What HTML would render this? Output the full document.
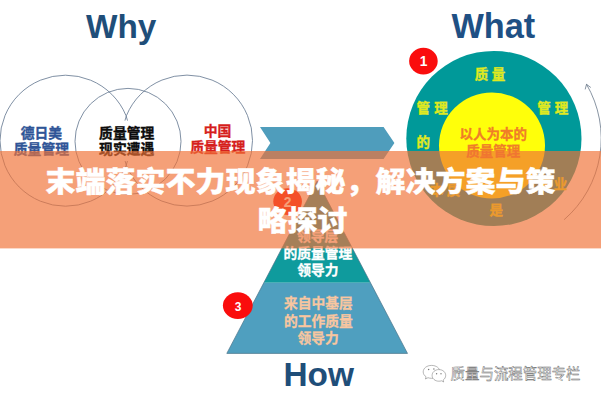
<!DOCTYPE html>
<html lang="zh-CN">
<head>
<meta charset="utf-8">
<title>末端落实不力现象揭秘，解决方案与策略探讨</title>
<style>
html,body{margin:0;padding:0;background:#fff;}
body{width:601px;height:400px;overflow:hidden;position:relative;}
svg{position:absolute;left:0;top:0;display:block;}
.en{font-family:"Liberation Sans",sans-serif;font-weight:bold;}
.cn{font-family:"Liberation Sans","Noto Sans CJK SC",sans-serif;font-weight:bold;}
.ttl{font-family:"Liberation Sans","Noto Sans CJK SC",sans-serif;font-weight:900;fill:#fff;stroke:#fff;stroke-width:0.4px;}
.wm{font-family:"Liberation Sans","Noto Sans CJK SC",sans-serif;font-weight:400;fill:#fff;stroke:#6a6a6a;stroke-width:0.45px;}
</style>
</head>
<body>
<svg width="601" height="400" viewBox="0 0 601 400">
  <rect x="0" y="0" width="601" height="400" fill="#ffffff"/>

  <!-- headings -->
  <text class="en" x="121.2" y="38" font-size="33.3" text-anchor="middle" fill="#1f4e79">Why</text>
  <text class="en" x="493.3" y="37.6" font-size="34.3" text-anchor="middle" fill="#1f5084">What</text>
  <text class="en" x="318.7" y="386" font-size="33.4" text-anchor="middle" fill="#1f4e79">How</text>

  <!-- venn circles -->
  <g fill="none" stroke="#5f748d" stroke-width="0.8">
    <circle cx="65.5" cy="140.7" r="65.5"/>
    <circle cx="187" cy="140.6" r="65.5"/>
    <circle cx="128" cy="141.4" r="53"/>
  </g>
  <rect x="97" y="120.6" width="60" height="40.4" fill="#ffffff"/>
  <g class="cn" font-size="13.8" text-anchor="middle" stroke-width="0.35">
    <text x="41.4" y="138.1" fill="#2f5597" stroke="#2f5597">德日美</text>
    <text x="41.4" y="154.1" fill="#2f5597" stroke="#2f5597">质量管理</text>
    <text x="126.7" y="138.3" fill="#0c0c0c" stroke="#0c0c0c">质量管理</text>
    <text x="126.7" y="154" fill="#0c0c0c" stroke="#0c0c0c">现实遭遇</text>
    <text x="217.6" y="135.9" fill="#d61e1c" stroke="#d61e1c">中国</text>
    <text x="217.8" y="152.2" fill="#d61e1c" stroke="#d61e1c">质量管理</text>
  </g>

  <!-- chevron arrow -->
  <polygon points="260,127 383.6,127 394.4,143.1 383.6,159.1 260,159.1 270.4,143.1" fill="#4f9dbc"/>

  <!-- What: big circles -->
  <circle cx="493.9" cy="138.5" r="87.6" fill="#009999"/>
  <circle cx="492" cy="145.5" r="53" fill="#ffff0a"/>
  <path d="M 564.1 219.7 A 107.3 107.3 0 0 0 586.5 84.3" fill="none" stroke="#55657a" stroke-width="0.7"/>
  <path d="M 585.2 89.4 L 586.5 84.3 L 590.8 87.5" fill="none" stroke="#55657a" stroke-width="0.7"/>
  <g class="cn" font-size="13.5" text-anchor="middle" fill="#e0ea1e" stroke="#e0ea1e" stroke-width="0.35">
    <text x="481.6" y="78.7">质</text><text x="498.5" y="78.7">量</text>
    <text x="423.2" y="113">管</text><text x="441.1" y="113">理</text>
    <text x="543.9" y="113">管</text><text x="561.4" y="113">理</text>
    <text x="423.3" y="146.8">的</text>
    <text x="436.8" y="195.2">本</text><text x="453.6" y="195.2">质</text>
    <text x="496.2" y="215">是</text>
    <text x="543.6" y="189">事</text><text x="560.4" y="189">业</text>
  </g>
  <g class="cn" font-size="13.5" text-anchor="middle" fill="#f07d28" stroke="#f07d28" stroke-width="0.3">
    <text x="493.2" y="139.4">以人为本的</text>
    <text x="493.3" y="156">质量管理</text>
  </g>

  <!-- pyramid -->
  <polygon points="317.15,181 370.5,282.8 263.8,282.8" fill="#0f9b9d"/>
  <polygon points="263.8,282.8 370.5,282.8 407.5,353.4 226.8,353.4" fill="#4f9fbf"/>
  <polygon points="317.15,181 407.5,353.4 226.8,353.4" fill="none" stroke="#4a7288" stroke-width="0.7" stroke-linejoin="miter"/>
  <g class="cn" font-size="13.75" text-anchor="middle" fill="#ffffff" stroke="#ffffff" stroke-width="0.3">
    <text x="317.7" y="241.2">领导层</text>
    <text x="317.9" y="257.8">的质量管理</text>
    <text x="317.9" y="275.2">领导力</text>
  </g>
  <g class="cn" font-size="13.75" text-anchor="middle" fill="#f8c6a0" stroke="#f8c6a0" stroke-width="0.3">
    <text x="318.4" y="307.8">来自中基层</text>
    <text x="318.4" y="325.8">的工作质量</text>
    <text x="318.2" y="342.5">领导力</text>
  </g>

  <!-- numbered badges -->
  <g>
    <ellipse cx="423.4" cy="61.1" rx="14.3" ry="13.3" fill="#fa0d0d"/>
    <ellipse cx="287.6" cy="201.6" rx="14.3" ry="13.4" fill="#fa0d0d"/>
    <ellipse cx="237.8" cy="305.6" rx="14.9" ry="13.3" fill="#fa0d0d"/>
    <g class="en" font-size="13.8" text-anchor="middle" fill="#ffffff">
      <text x="423.6" y="66.2">1</text>
      <text x="287.5" y="207">2</text>
      <text x="238" y="310.5" font-size="12">3</text>
    </g>
  </g>

  <!-- overlay band -->
  <rect x="0" y="151" width="601" height="97.4" fill="rgba(240,113,54,0.67)"/>
  <text class="ttl" x="45.5" y="192.1" font-size="28.5" textLength="510" lengthAdjust="spacingAndGlyphs">末端落实不力现象揭秘，解决方案与策</text>
  <text class="ttl" x="257.5" y="231.1" font-size="28.5" textLength="90" lengthAdjust="spacingAndGlyphs">略探讨</text>

  <!-- watermark -->
  <g fill="#ffffff" stroke="#6e6e6e" stroke-width="0.5" stroke-linejoin="round">
    <path d="M 431.6 365.4 C 426.7 365.4 423.2 368.3 423.2 371.9 C 423.2 373.9 424.3 375.6 426.1 376.8 L 425.4 379 L 428 377.7 C 429.1 378.1 430.3 378.3 431.6 378.3 C 436.4 378.3 440 375.4 440 371.9 C 440 368.3 436.4 365.4 431.6 365.4 Z"/>
    <path d="M 438.9 369.6 C 434.9 369.6 432.1 372.2 432.1 375.4 C 432.1 378.6 434.9 381.2 438.9 381.2 C 439.8 381.2 440.7 381.1 441.5 380.8 L 443.7 382 L 443.1 380.1 C 444.7 379 445.7 377.3 445.7 375.4 C 445.7 372.2 442.9 369.6 438.9 369.6 Z"/>
  </g>
  <g fill="#7a7a7a">
    <circle cx="428.6" cy="369.6" r="0.75"/><circle cx="433.9" cy="368.9" r="0.75"/>
    <circle cx="436.6" cy="373.7" r="0.7"/><circle cx="441" cy="373.7" r="0.7"/>
  </g>
  <text class="wm" x="450.6" y="379.3" font-size="14.45">质量与流程管理专栏</text>
</svg>
</body>
</html>
